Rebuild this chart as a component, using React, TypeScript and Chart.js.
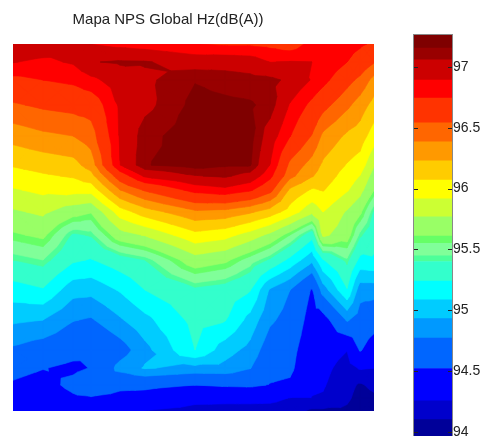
import React, { useEffect, useRef } from "react";
import { Chart, registerables } from "chart.js";

Chart.register(...registerables);

const titleText = "Mapa NPS Global Hz(dB(A))";
const FONT = "'Liberation Sans', Arial, sans-serif";

// measurement positions across and down the map
const xPositions = [0, 30, 60, 78, 107, 132, 182, 212, 237, 257, 277, 299, 310, 334, 347, 361];
const yPositions = [0, 18, 36, 61, 92, 121, 132, 146, 168, 191, 216, 246, 276, 306, 324, 341, 354, 367];

// sound level at each position, one list per column
const col00 = [97.02, 96.9, 96.7, 96.52, 96.29, 96.085, 96.0, 95.9, 95.745, 95.59, 95.4, 95.17, 94.96, 94.74, 94.6, 94.49, 94.39, 94.29];
const col01 = [97.0, 96.86, 96.745, 96.57, 96.35, 96.13, 96.05, 95.95, 95.795, 95.64, 95.447, 95.225, 94.93, 94.67, 94.53, 94.42, 94.35, 94.27];
const col02 = [96.93, 96.91, 96.78, 96.6, 96.384, 96.17, 96.085, 95.97, 95.67, 95.38, 95.265, 94.99, 94.78, 94.6, 94.47, 94.59, 94.48, 94.3];
const col03 = [96.89, 97.05, 96.85, 96.62, 96.46, 96.3, 96.17, 95.97, 95.62, 95.41, 95.23, 94.98, 94.75, 94.53, 94.53, 94.7, 94.5, 94.31];
const col04 = [96.85, 97.075, 96.98, 96.92, 96.91, 96.89, 96.64, 96.38, 95.99, 95.7, 95.33, 95.1, 94.91, 94.68, 94.83, 94.58, 94.45, 94.3];
const col05 = [96.82, 97.07, 97.03, 97.02, 97.12, 97.15, 96.92, 96.56, 96.15, 95.78, 95.4, 95.24, 95.04, 94.88, 94.945, 94.58, 94.42, 94.25];
const col06 = [96.75, 96.99, 97.15, 97.19, 97.22, 97.2, 97.05, 96.8, 96.35, 96.02, 95.7, 95.37, 95.29, 95.24, 94.88, 94.52, 94.31, 94.2];
const col07 = [96.72, 97.0, 97.12, 97.18, 97.2, 97.17, 97.08, 96.85, 96.33, 95.97, 95.64, 95.33, 95.25, 95.0, 94.88, 94.55, 94.3, 94.2];
const col08 = [96.72, 96.98, 97.1, 97.17, 97.2, 97.17, 97.0, 96.77, 96.25, 95.85, 95.5, 95.25, 95.03, 94.88, 94.78, 94.56, 94.3, 94.2];
const col09 = [96.7, 96.89, 97.09, 97.12, 96.98, 96.89, 96.79, 96.6, 96.15, 95.73, 95.38, 94.91, 94.8, 94.66, 94.6, 94.51, 94.3, 94.19];
const col10 = [96.65, 96.9, 97.03, 96.88, 96.75, 96.5, 96.43, 96.2, 96.0, 95.55, 95.2, 94.77, 94.7, 94.6, 94.57, 94.48, 94.25, 94.17];
const col11 = [96.8, 96.893, 96.88, 96.7, 96.53, 96.32, 96.24, 96.05, 95.8, 95.3, 94.97, 94.5, 94.42, 94.36, 94.31, 94.28, 94.25, 94.07];
const col12 = [96.75, 96.89, 96.8, 96.6, 96.35, 96.2, 96.16, 96.08, 95.915, 95.8, 95.23, 94.85, 94.42, 94.34, 94.3, 94.27, 94.24, 94.07];
const col13 = [96.8, 96.745, 96.6, 96.42, 96.2, 96.06, 96.0, 95.93, 95.75, 95.68, 95.43, 95.23, 94.79, 94.26, 94.19, 94.15, 94.13, 94.07];
const col14 = [96.77, 96.67, 96.5, 96.31, 96.15, 96.0, 95.91, 95.82, 95.64, 95.42, 95.2, 94.84, 94.68, 94.54, 94.27, 94.08, 94.04, 94.0];
const col15 = [96.72, 96.55, 96.33, 96.17, 95.99, 95.78, 95.7, 95.61, 95.38, 95.3, 95.22, 94.84, 94.62, 94.4, 94.255, 94.14, 94.07, 93.99];
const columns = [col00, col01, col02, col03, col04, col05, col06, col07, col08, col09, col10, col11, col12, col13, col14, col15];

// contour bands, lowest first
const bandFloors = [93.965, 94.1, 94.255, 94.52, 94.77, 94.93, 95.085, 95.24, 95.4, 95.447, 95.55, 95.61, 95.767, 95.915, 96.07, 96.228, 96.384, 96.54, 96.745, 96.893, 97.058, 97.156];
const bandColors = ["#000099", "#0000cc", "#0000ff", "#0066ff", "#0099ff", "#00ccff", "#00ffff", "#33ffcc", "#4dff99", "#80ff99", "#66ff66", "#99ff66", "#ccff33", "#ffff00", "#ffcc00", "#ff9900", "#ff6600", "#ff3300", "#ff0000", "#cc0000", "#990000", "#7f0000"];
const barMin = 93.965;
const barMax = 97.263;
const barTickValues = [94, 94.5, 95, 95.5, 96, 96.5, 97];

type P = { x: number; y: number; z: number };

function clipAbove(tri: P[], level: number): P[] {
  const out: P[] = [];
  for (let i = 0; i < tri.length; i++) {
    const a = tri[i];
    const b = tri[(i + 1) % tri.length];
    const aIn = a.z >= level;
    const bIn = b.z >= level;
    if (aIn) out.push(a);
    if (aIn !== bIn) {
      const t = (level - a.z) / (b.z - a.z);
      out.push({ x: a.x + t * (b.x - a.x), y: a.y + t * (b.y - a.y), z: level });
    }
  }
  return out;
}

const contourPlugin = {
  id: "contourBands",
  beforeDatasetsDraw(chart: any) {
    const { ctx, chartArea, scales } = chart;
    const node = (i: number, j: number): P => ({ x: xPositions[i], y: yPositions[j], z: columns[i][j] });
    const tris: P[][] = [];
    for (let i = 0; i < xPositions.length - 1; i++) {
      for (let j = 0; j < yPositions.length - 1; j++) {
        const a = node(i, j), b = node(i + 1, j), c = node(i + 1, j + 1), d = node(i, j + 1);
        const m = { x: (a.x + b.x) / 2, y: (a.y + d.y) / 2, z: (a.z + b.z + c.z + d.z) / 4 };
        tris.push([a, b, m], [b, c, m], [c, d, m], [d, a, m]);
      }
    }
    ctx.save();
    ctx.beginPath();
    ctx.rect(chartArea.left, chartArea.top, chartArea.width, chartArea.height);
    ctx.clip();
    bandFloors.forEach((level, k) => {
      ctx.beginPath();
      for (const tri of tris) {
        const poly = clipAbove(tri, level);
        if (poly.length < 3) continue;
        poly.forEach((p, n) => {
          const px = scales.x.getPixelForValue(p.x);
          const py = scales.y.getPixelForValue(p.y);
          if (n === 0) ctx.moveTo(px, py);
          else ctx.lineTo(px, py);
        });
        ctx.closePath();
      }
      ctx.fillStyle = bandColors[k];
      ctx.strokeStyle = bandColors[k];
      ctx.lineWidth = 0.6;
      ctx.fill();
      ctx.stroke();
    });
    ctx.restore();
  },
};

const titlePlacement = {
  id: "titlePlacement",
  afterLayout(chart: any) {
    if (chart.titleBlock) {
      chart.titleBlock.left = 0;
      chart.titleBlock.right = 336;
    }
  },
};

const barFrame = {
  id: "barFrame",
  afterDatasetsDraw(chart: any) {
    const { ctx, chartArea, scales } = chart;
    ctx.save();
    ctx.lineWidth = 1;
    scales.y.ticks.forEach((t: any) => {
      const py = Math.round(scales.y.getPixelForValue(t.value)) + 0.5;
      ctx.beginPath();
      ctx.moveTo(chartArea.left, py);
      ctx.lineTo(chartArea.left + 4, py);
      ctx.moveTo(chartArea.right - 4, py);
      ctx.lineTo(chartArea.right, py);
      ctx.strokeStyle = "#222222";
      ctx.stroke();
    });
    ctx.strokeStyle = "#888888";
    ctx.strokeRect(chartArea.left - 0.5, chartArea.top - 0.5, chartArea.width + 1, chartArea.height + 1);
    ctx.restore();
  },
};

export default function App() {
  const mapRef = useRef<HTMLCanvasElement>(null);
  const barRef = useRef<HTMLCanvasElement>(null);

  useEffect(() => {
    const points = xPositions.flatMap((x, i) => yPositions.map((y, j) => ({ x, y, z: columns[i][j] })));
    const map = new Chart(mapRef.current!, {
      type: "scatter",
      data: { datasets: [{ label: "NPS", data: points, pointRadius: 0, showLine: false }] },
      options: {
        responsive: false,
        animation: false,
        layout: { padding: { left: 13, right: 110, top: 0, bottom: 25 } },
        plugins: {
          legend: { display: false },
          tooltip: { enabled: false },
          title: {
            display: true,
            text: titleText,
            color: "#222222",
            font: { family: FONT, size: 15, weight: "normal" },
            padding: { top: 11, bottom: 15 },
          },
        },
        scales: {
          x: { type: "linear", display: false, min: 0, max: 361 },
          y: { type: "linear", display: false, min: 0, max: 367, reverse: true },
        },
      },
      plugins: [contourPlugin, titlePlacement],
    } as any);

    const bar = new Chart(barRef.current!, {
      type: "bar",
      data: {
        labels: ["NPS"],
        datasets: bandColors.map((color, k) => ({
          label: String(bandFloors[k]),
          data: [[bandFloors[k], k + 1 < bandFloors.length ? bandFloors[k + 1] : barMax]],
          backgroundColor: color,
          borderWidth: 0,
          barPercentage: 1,
          categoryPercentage: 1,
          grouped: false,
        })),
      },
      options: {
        responsive: false,
        animation: false,
        layout: { padding: { left: 14, right: 0, top: 35, bottom: 0 } },
        plugins: { legend: { display: false }, tooltip: { enabled: false } },
        scales: {
          x: { display: false },
          y: {
            position: "right",
            min: barMin,
            max: barMax,
            afterFit: (s: any) => { s.width = 32; s.paddingTop = 0; s.paddingBottom = 0; },
            afterBuildTicks: (s: any) => { s.ticks = barTickValues.map((value) => ({ value })); },
            grid: { display: false, drawTicks: false },
            border: { display: false },
            ticks: {
              autoSkip: false,
              padding: 1,
              color: "#222222",
              font: { family: FONT, size: 14 },
              callback: (v: any) => String(v),
            },
          },
        },
      },
      plugins: [barFrame],
    } as any);

    return () => {
      map.destroy();
      bar.destroy();
    };
  }, []);

  return (
    <div style={{ position: "absolute", left: 0, top: 0, width: 484, height: 436, background: "#fff", overflow: "hidden" }}>
      <canvas ref={mapRef} width={484} height={436} style={{ position: "absolute", left: 0, top: 0 }} />
      <canvas ref={barRef} width={84} height={436} style={{ position: "absolute", left: 400, top: 0 }} />
    </div>
  );
}
